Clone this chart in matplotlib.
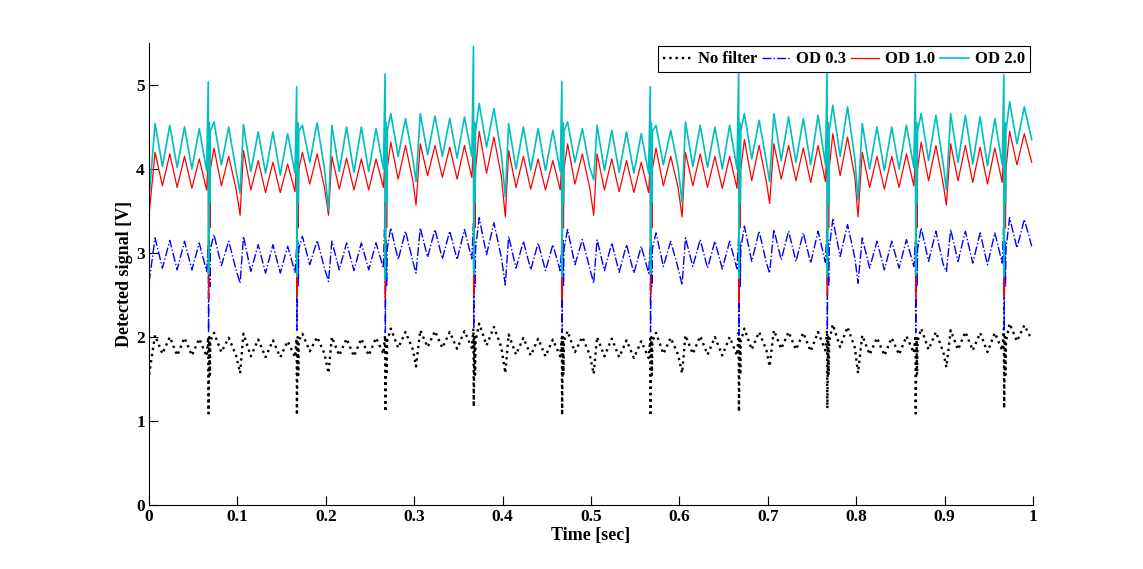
import numpy as np
import matplotlib.pyplot as plt

# timing of the detected signal (sec)
first_peak = 0.0068          # first 60 Hz ripple maximum
ripple_period = 1 / 60       # mains ripple
spike_t = [0.067, 0.167, 0.267, 0.367, 0.467, 0.567, 0.667, 0.767, 0.867, 0.967]
dip_t = [0.0, 0.103, 0.203, 0.302, 0.403, 0.503, 0.603, 0.702, 0.802, 0.902]
burst_dt = [0.0006, 0.0012, 0.0018, 0.0024]

# ---- OD 2.0 (cyan) ----
od20_peaks = [4.54, 4.52, 4.50, 4.48, 4.56, 4.50,
              4.53, 4.44, 4.44, 4.42, 4.52, 4.55,
              4.52, 4.50, 4.50, 4.48, 4.66, 4.60,
              4.66, 4.63, 4.60, 4.62, 4.78, 4.72,
              4.54, 4.50, 4.48, 4.46, 4.56, 4.48,
              4.52, 4.46, 4.44, 4.42, 4.52, 4.46,
              4.56, 4.52, 4.50, 4.52, 4.66, 4.58,
              4.66, 4.62, 4.60, 4.64, 4.76, 4.74,
              4.54, 4.50, 4.50, 4.52, 4.66, 4.64,
              4.66, 4.64, 4.62, 4.60, 4.80, 4.74]
od20_troughs = [4.03, 4.02, 4.00, 3.98, 4.05, 3.98,
                3.97, 3.95, 3.93, 3.95, 4.08, 4.00,
                3.97, 3.96, 3.97, 4.00, 4.15, 4.12,
                4.17, 4.15, 4.13, 4.15, 4.26, 4.18,
                4.00, 3.99, 3.98, 3.97, 4.08, 4.02,
                3.98, 3.96, 3.95, 3.95, 4.05, 4.02,
                4.03, 4.02, 4.00, 4.00, 4.12, 4.08,
                4.10, 4.08, 4.05, 4.05, 4.15, 4.12,
                4.00, 3.98, 4.00, 4.02, 4.10, 4.05,
                4.08, 4.06, 4.04, 4.05, 4.30, 4.35]
od20_dips = [3.65, 3.71, 3.51, 3.85, 3.67, 3.87, 3.60, 3.85, 3.63, 3.75]
od20_spike_hi = [5.04, 4.98, 5.13, 5.46, 5.04, 4.98, 5.20, 5.15, 5.13, 5.12]
od20_spike_lo = [2.75, 2.72, 2.68, 2.75, 2.72, 2.75, 2.70, 2.72, 2.74, 2.72]
od20_burst = [3.40, 4.55, 3.60, 4.45]

# ---- OD 1.0 (red) ----
od10_peaks = [4.20, 4.18, 4.15, 4.12, 4.25, 4.15,
              4.22, 4.10, 4.08, 4.06, 4.20, 4.18,
              4.15, 4.13, 4.12, 4.12, 4.32, 4.28,
              4.30, 4.28, 4.26, 4.28, 4.45, 4.38,
              4.22, 4.15, 4.12, 4.10, 4.30, 4.18,
              4.18, 4.12, 4.10, 4.08, 4.25, 4.15,
              4.20, 4.18, 4.15, 4.15, 4.35, 4.28,
              4.30, 4.28, 4.25, 4.28, 4.42, 4.38,
              4.20, 4.15, 4.15, 4.18, 4.32, 4.28,
              4.30, 4.28, 4.26, 4.25, 4.45, 4.42]
od10_troughs = [3.80, 3.78, 3.77, 3.75, 3.80, 3.76,
                3.75, 3.72, 3.72, 3.73, 3.82, 3.78,
                3.76, 3.75, 3.75, 3.78, 3.88, 3.86,
                3.92, 3.90, 3.88, 3.90, 3.95, 3.92,
                3.78, 3.76, 3.75, 3.75, 3.82, 3.78,
                3.75, 3.73, 3.72, 3.72, 3.80, 3.78,
                3.80, 3.78, 3.77, 3.77, 3.86, 3.84,
                3.88, 3.86, 3.84, 3.85, 3.92, 3.90,
                3.78, 3.76, 3.78, 3.80, 3.86, 3.82,
                3.86, 3.84, 3.82, 3.84, 4.05, 4.08]
od10_dips = [3.45, 3.45, 3.45, 3.57, 3.43, 3.45, 3.43, 3.59, 3.43, 3.57]
od10_spike_hi = [4.15, 4.10, 4.15, 4.30, 4.12, 4.10, 4.18, 4.28, 4.18, 4.25]
od10_spike_lo = [2.45, 2.48, 2.45, 2.50, 2.45, 2.48, 2.42, 2.50, 2.45, 2.48]
od10_burst = [3.20, 4.10, 3.30, 4.00]

# ---- OD 0.3 (blue) ----
od03_peaks = [3.18, 3.15, 3.14, 3.12, 3.22, 3.14,
              3.20, 3.10, 3.10, 3.08, 3.20, 3.15,
              3.14, 3.12, 3.12, 3.12, 3.30, 3.26,
              3.30, 3.28, 3.26, 3.28, 3.42, 3.36,
              3.20, 3.14, 3.12, 3.10, 3.28, 3.16,
              3.16, 3.12, 3.10, 3.08, 3.24, 3.14,
              3.18, 3.16, 3.14, 3.14, 3.32, 3.26,
              3.28, 3.26, 3.24, 3.26, 3.40, 3.34,
              3.18, 3.14, 3.14, 3.16, 3.30, 3.26,
              3.28, 3.26, 3.24, 3.24, 3.42, 3.40]
od03_troughs = [2.82, 2.80, 2.80, 2.78, 2.85, 2.80,
                2.78, 2.76, 2.76, 2.77, 2.86, 2.82,
                2.80, 2.79, 2.80, 2.82, 2.92, 2.90,
                2.95, 2.93, 2.92, 2.93, 2.98, 2.95,
                2.82, 2.80, 2.79, 2.79, 2.86, 2.82,
                2.79, 2.77, 2.76, 2.76, 2.84, 2.82,
                2.84, 2.82, 2.81, 2.81, 2.90, 2.88,
                2.92, 2.90, 2.88, 2.89, 2.96, 2.94,
                2.82, 2.80, 2.82, 2.84, 2.90, 2.86,
                2.90, 2.88, 2.86, 2.88, 3.06, 3.08]
od03_dips = [2.65, 2.64, 2.66, 2.76, 2.62, 2.64, 2.62, 2.76, 2.64, 2.78]
od03_spike_hi = [3.10, 3.08, 3.60, 3.35, 3.10, 3.08, 3.20, 3.30, 3.15, 3.40]
od03_spike_lo = [2.05, 2.08, 2.05, 2.10, 2.05, 2.06, 2.02, 2.08, 2.05, 2.08]
od03_burst = [2.50, 3.15, 2.60, 3.05]

# ---- No filter (black) ----
nof_peaks = [2.02, 2.00, 1.99, 1.98, 2.05, 1.99,
             2.04, 1.97, 1.96, 1.95, 2.04, 2.00,
             2.00, 1.98, 1.98, 1.99, 2.10, 2.06,
             2.08, 2.07, 2.06, 2.07, 2.16, 2.12,
             2.03, 1.99, 1.98, 1.97, 2.07, 2.00,
             2.00, 1.98, 1.96, 1.95, 2.05, 1.99,
             2.02, 2.01, 2.00, 2.00, 2.10, 2.06,
             2.08, 2.06, 2.05, 2.06, 2.15, 2.12,
             2.02, 1.99, 1.99, 2.01, 2.10, 2.06,
             2.08, 2.06, 2.05, 2.05, 2.16, 2.14]
nof_troughs = [1.80, 1.78, 1.78, 1.77, 1.82, 1.78,
               1.77, 1.76, 1.76, 1.76, 1.83, 1.80,
               1.78, 1.77, 1.78, 1.80, 1.87, 1.85,
               1.88, 1.87, 1.86, 1.87, 1.90, 1.88,
               1.79, 1.78, 1.77, 1.77, 1.82, 1.79,
               1.77, 1.76, 1.75, 1.75, 1.80, 1.79,
               1.80, 1.79, 1.78, 1.78, 1.85, 1.84,
               1.86, 1.85, 1.83, 1.84, 1.88, 1.87,
               1.79, 1.78, 1.79, 1.81, 1.85, 1.82,
               1.85, 1.84, 1.82, 1.84, 1.95, 1.97]
nof_dips = [1.55, 1.57, 1.57, 1.65, 1.57, 1.56, 1.57, 1.65, 1.57, 1.64]
nof_spike_hi = [2.00, 1.98, 2.02, 2.10, 2.00, 1.98, 2.05, 2.08, 2.02, 2.10]
nof_spike_lo = [1.09, 1.07, 1.11, 1.17, 1.07, 1.06, 1.11, 1.15, 1.09, 1.15]
nof_burst = [1.45, 2.00, 1.55, 1.95]

xtick_vals = [0, 0.1, 0.2, 0.3, 0.4, 0.5, 0.6, 0.7, 0.8, 0.9, 1.0]
xtick_labels = ['0', '0.1', '0.2', '0.3', '0.4', '0.5', '0.6', '0.7', '0.8', '0.9', '1']
ytick_vals = [0, 1, 2, 3, 4, 5]


def build_trace(peaks, troughs, dips, spike_hi, spike_lo, burst):
    """Put ripple extrema, dips and spikes together in time order."""
    pts = []
    for k, (p, tr) in enumerate(zip(peaks, troughs)):
        tp = first_peak + k * ripple_period
        pts.append((tp, p))
        pts.append((tp + ripple_period / 2, tr))
    for td, v in zip(dip_t, dips):
        pts.append((td, v))
    for ts, hi, lo in zip(spike_t, spike_hi, spike_lo):
        pts.append((ts, hi))
        pts.append((ts + 0.0003, lo))
        for dt, v in zip(burst_dt, burst):
            pts.append((ts + dt, v))
    pts.sort(key=lambda q: q[0])
    t = np.array([q[0] for q in pts])
    v = np.array([q[1] for q in pts])
    return t, v


plt.rcParams['font.family'] = ['Liberation Serif', 'DejaVu Serif']
plt.rcParams['font.weight'] = 'bold'

fig = plt.figure(figsize=(11.43, 5.69), dpi=100)
ax = fig.add_axes([0.1304, 0.1125, 0.7734, 0.8119])

t, v = build_trace(nof_peaks, nof_troughs, nof_dips, nof_spike_hi, nof_spike_lo, nof_burst)
ax.plot(t, v, color='black', linestyle=':', linewidth=1.7, label='No filter')
t, v = build_trace(od03_peaks, od03_troughs, od03_dips, od03_spike_hi, od03_spike_lo, od03_burst)
ax.plot(t, v, color='#0000ff', linestyle='-.', linewidth=1.0, label='OD 0.3')
t, v = build_trace(od10_peaks, od10_troughs, od10_dips, od10_spike_hi, od10_spike_lo, od10_burst)
ax.plot(t, v, color='#ff0000', linestyle='-', linewidth=0.9, label='OD 1.0')
t, v = build_trace(od20_peaks, od20_troughs, od20_dips, od20_spike_hi, od20_spike_lo, od20_burst)
ax.plot(t, v, color='#00bfbf', linestyle='-', linewidth=1.2, label='OD 2.0')

ax.set_xlim(0, 1)
ax.set_ylim(0, 5.5)
ax.set_xticks(xtick_vals)
ax.set_xticklabels(xtick_labels)
ax.set_yticks(ytick_vals)
ax.tick_params(direction='in', length=6.5, width=0.8, labelsize=12.5, pad=3)
for lab in ax.get_xticklabels() + ax.get_yticklabels():
    lab.set_fontweight('bold')
ax.spines['top'].set_visible(False)
ax.spines['right'].set_visible(False)

ax.set_xlabel('Time [sec]', fontsize=13, fontweight='bold', labelpad=1)
ax.set_ylabel('Detected signal [V]', fontsize=13, fontweight='bold', labelpad=2)

leg = ax.legend(loc='upper right', ncol=4, fontsize=12, frameon=True, fancybox=False,
                handlelength=1.7, handletextpad=0.35, columnspacing=0.3,
                borderpad=0.3, borderaxespad=0.2, framealpha=1)
leg.get_frame().set_edgecolor('black')
leg.get_frame().set_linewidth(0.8)
for txt in leg.get_texts():
    txt.set_fontweight('bold')

fig.savefig('out.png', dpi=100)
